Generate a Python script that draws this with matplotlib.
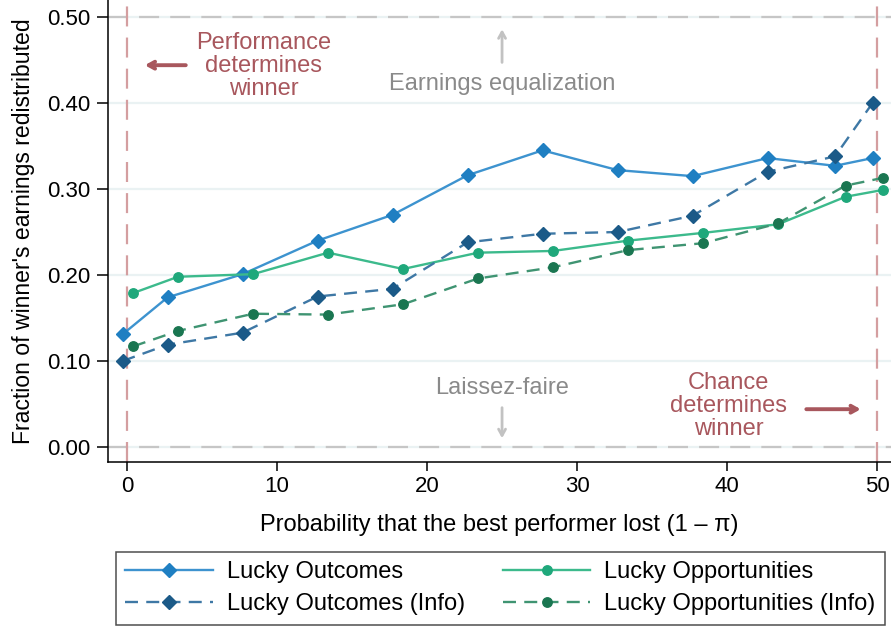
import matplotlib

matplotlib.use("Agg")

from matplotlib import pyplot as plt

plt.rcParams["font.family"] = ["Liberation Sans", "DejaVu Sans"]

# probability that the best performer lost, in percent
x_base = [0, 3, 8, 13, 18, 23, 28, 33, 38, 43, 47.5, 50]

lucky_outcomes = [0.131, 0.174, 0.201, 0.240, 0.270, 0.316, 0.345, 0.322, 0.315, 0.336, 0.327, 0.336]
lucky_outcomes_info = [0.100, 0.119, 0.133, 0.175, 0.184, 0.238, 0.248, 0.250, 0.269, 0.320, 0.338, 0.400]
lucky_opps = [0.179, 0.198, 0.201, 0.226, 0.207, 0.226, 0.228, 0.240, 0.249, 0.259, 0.291, 0.299]
lucky_opps_info = [0.117, 0.135, 0.155, 0.154, 0.166, 0.196, 0.209, 0.229, 0.237, 0.260, 0.304, 0.313]

x_ticks = [0, 10, 20, 30, 40, 50]
y_ticks = [0.0, 0.1, 0.2, 0.3, 0.4, 0.5]

RED = "#a8575d"
GRAY_TEXT = "#8a8a8a"
GRAY_ARROW = "#c2c2c2"
FS = 17

fig = plt.figure(figsize=(8.91, 6.28), dpi=100)
ax = fig.add_axes([108 / 891, 1 - 462 / 628, 1 - 108 / 891, 462 / 628])

for y in y_ticks:
    ax.axhline(y, color="#eaf2f3", linewidth=1.6, zorder=0)
for y in (0.0, 0.5):
    ax.axhline(y, color="#c6c6c6", linewidth=1.6, dashes=(9, 5), zorder=1)
for x in (0, 50):
    ax.axvline(x, color="#d49ea0", linewidth=1.6, dashes=(9, 5), zorder=1)

off_out, off_opp = -0.3, 0.4
xo = [v + off_out for v in x_base]
xp = [v + off_opp for v in x_base]

h_lo, = ax.plot(xo, lucky_outcomes, color="#3d93cf", marker="D", markersize=6.8,
                markerfacecolor="#1f7fc2", markeredgecolor="#1f7fc2", linewidth=1.7,
                label="Lucky Outcomes", zorder=3)
h_op, = ax.plot(xp, lucky_opps, color="#3cba8c", marker="o", markersize=6.8,
                markerfacecolor="#1fa87b", markeredgecolor="#1fa87b", linewidth=1.7,
                label="Lucky Opportunities", zorder=3)
h_loi, = ax.plot(xo, lucky_outcomes_info, color="#3e78a5", marker="D", markersize=6.8,
                 markerfacecolor="#1b5a88", markeredgecolor="#1b5a88", linewidth=1.7,
                 dashes=(5.5, 3.5), label="Lucky Outcomes (Info)", zorder=4)
h_opi, = ax.plot(xp, lucky_opps_info, color="#3f9472", marker="o", markersize=6.8,
                 markerfacecolor="#1a7651", markeredgecolor="#1a7651", linewidth=1.7,
                 dashes=(5.5, 3.5), label="Lucky Opportunities (Info)", zorder=4)

# annotations
arrow = "->,head_length=0.45,head_width=0.25"
ax.text(9.1, 0.443, "Performance\ndetermines\nwinner", color=RED, fontsize=FS,
        ha="center", va="center", linespacing=1.07)
ax.annotate("", xy=(1.0, 0.444), xytext=(4.1, 0.444),
            arrowprops=dict(arrowstyle=arrow, color=RED, lw=2.8))
ax.text(40.1, 0.048, "Chance\ndetermines\nwinner", color=RED, fontsize=FS,
        ha="center", va="center", linespacing=1.05)
ax.annotate("", xy=(49.1, 0.044), xytext=(45.1, 0.044),
            arrowprops=dict(arrowstyle=arrow, color=RED, lw=2.8))
ax.text(25, 0.422, "Earnings equalization", color=GRAY_TEXT, fontsize=FS,
        ha="center", va="center")
ax.annotate("", xy=(25, 0.489), xytext=(25, 0.444),
            arrowprops=dict(arrowstyle=arrow, color=GRAY_ARROW, lw=2.0))
ax.text(25, 0.069, "Laissez-faire", color=GRAY_TEXT, fontsize=FS,
        ha="center", va="center")
ax.annotate("", xy=(25, 0.007), xytext=(25, 0.049),
            arrowprops=dict(arrowstyle=arrow, color=GRAY_ARROW, lw=2.0))

ax.set_xlim(-1.27, 50.93)
ax.set_ylim(-0.0174, 0.5198)
ax.set_xticks(x_ticks)
ax.set_yticks(y_ticks, [f"{v:.2f}" for v in y_ticks])
ax.tick_params(axis="both", labelsize=16, width=1.1, color="black")
ax.tick_params(axis="y", length=8, pad=4.5)
ax.tick_params(axis="x", length=6.5, pad=3.6)
for side in ("top", "right"):
    ax.spines[side].set_visible(False)
for side in ("left", "bottom"):
    ax.spines[side].set_linewidth(1.1)

ax.set_ylabel("Fraction of winner's earnings redistributed", fontsize=16.6, labelpad=9)
ax.set_xlabel("Probability that the best performer lost (1 – π)", fontsize=17, labelpad=12)

leg = fig.legend(
    [h_lo, h_loi, h_op, h_opi],
    ["Lucky Outcomes", "Lucky Outcomes (Info)", "Lucky Opportunities", "Lucky Opportunities (Info)"],
    loc="upper left",
    bbox_to_anchor=(116 / 891, 1 - 552 / 628),
    ncol=2,
    fontsize=FS,
    handlelength=3.7,
    handletextpad=0.6,
    columnspacing=1.6,
    borderpad=0.4,
    labelspacing=0.42,
    borderaxespad=0,
    fancybox=False,
    frameon=True,
)
leg.get_frame().set_edgecolor("#222222")
leg.get_frame().set_linewidth(1.1)

fig.savefig("out.png", dpi=100)
